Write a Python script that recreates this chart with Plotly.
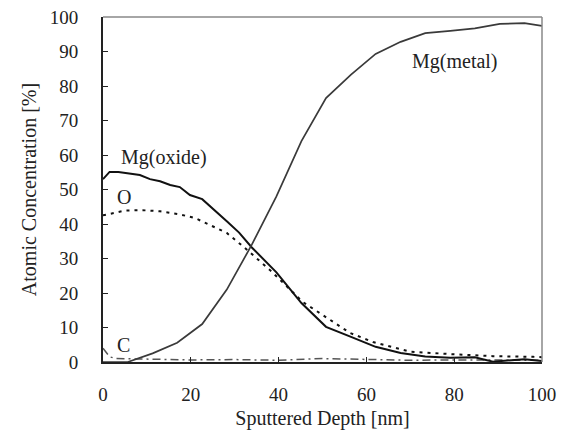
import plotly.graph_objects as go

# Mg(metal)
metal_x = [0, 5.65, 11.3, 16.9, 22.6, 28.2, 33.9, 39.5, 45.2, 50.8, 56.5, 62.1, 67.8, 73.4, 79.1, 84.7, 90.4, 96.0, 100]
metal_y = [0, 0, 2.5, 5.6, 11, 21, 34, 48, 64, 76.5, 83.3, 89.3, 92.8, 95.3, 96.0, 96.7, 98.0, 98.2, 97.4]

# Mg(oxide)
oxide_x = [0, 1.5, 3.5, 6.2, 8.4, 10.7, 13.0, 15.3, 17.5, 19.8, 22.6, 28.2, 31.0, 33.9, 39.5, 45.2, 50.8, 56.5, 62.1, 67.8, 73.4, 79.1, 84.7, 88.8, 96.0, 100]
oxide_y = [53, 55.1, 55.1, 54.6, 54.2, 53.0, 52.4, 51.3, 50.7, 48.4, 47.2, 40.8, 37.5, 33.2, 26.0, 17.1, 10.2, 7.3, 4.4, 2.6, 1.6, 1.2, 1.4, 0.1, 0.8, 0.3]

# O
o_x = [0, 2.3, 5, 9, 13, 17.5, 21, 23.2, 28.2, 32, 38, 45.5, 50, 56.3, 61.5, 70, 79, 88.8, 98, 100]
o_y = [42.5, 43.2, 43.9, 44.0, 43.7, 42.8, 41.7, 40.4, 37.4, 33.4, 26.7, 17.4, 13.6, 8.4, 5.8, 3.0, 2.3, 1.7, 1.5, 1.4]

# C
c_x = [0, 1.5, 3, 10, 20, 30, 40, 50, 60, 70, 80, 90, 100]
c_y = [4.0, 1.5, 1.0, 0.8, 0.6, 0.7, 0.5, 1.0, 0.8, 0.5, 0.6, 0.5, 0.5]

x_ticks = [0, 20, 40, 60, 80, 100]
y_ticks = [0, 10, 20, 30, 40, 50, 60, 70, 80, 90, 100]

labels = ["Mg(oxide)", "O", "C", "Mg(metal)"]
label_x = [14.0, 4.8, 4.6, 80.2]
label_y = [59.4, 47.8, 5.0, 87.0]

FONT = "Liberation Serif"
TXT = "#222222"

fig = go.Figure()
fig.add_trace(go.Scatter(x=c_x, y=c_y, mode="lines", name="C",
                         line=dict(color="#555555", width=1.5, dash="8px,4px,2px,4px")))
fig.add_trace(go.Scatter(x=o_x, y=o_y, mode="lines", name="O",
                         line=dict(color="#111111", width=2, dash="3px,5px")))
fig.add_trace(go.Scatter(x=oxide_x, y=oxide_y, mode="lines", name="Mg(oxide)",
                         line=dict(color="#111111", width=2)))
fig.add_trace(go.Scatter(x=metal_x, y=metal_y, mode="lines", name="Mg(metal)",
                         line=dict(color="#3a3a3a", width=1.7)))

for t, xx, yy in zip(labels, label_x, label_y):
    fig.add_annotation(x=xx, y=yy, text=t, showarrow=False,
                       font=dict(family=FONT, size=20, color=TXT))

fig.add_shape(type="line", xref="paper", yref="paper", x0=0, x1=1, y0=1, y1=1,
              line=dict(color="#888888", width=1.5))
fig.add_shape(type="line", xref="paper", yref="paper", x0=1, x1=1, y0=0, y1=1,
              line=dict(color="#888888", width=1.5))

fig.update_layout(
    width=567, height=430,
    margin=dict(l=103, r=25, t=17, b=68),
    paper_bgcolor="white", plot_bgcolor="white",
    showlegend=False,
    font=dict(family=FONT, color=TXT),
)
fig.update_xaxes(range=[0, 100], tickvals=x_ticks, ticks="inside", ticklen=5,
                 tickcolor=TXT, showline=True, linecolor=TXT, linewidth=2,
                 showgrid=False, zeroline=False, ticklabelstandoff=14, automargin=False,
                 tickfont=dict(family=FONT, size=19, color=TXT),
                 title=dict(text="Sputtered Depth [nm]", standoff=9,
                            font=dict(family=FONT, size=20, color=TXT)))
fig.update_yaxes(range=[0, 100], tickvals=y_ticks, ticks="inside", ticklen=5,
                 tickcolor=TXT, showline=True, linecolor=TXT, linewidth=2,
                 showgrid=False, zeroline=False, ticklabelstandoff=19, automargin=False,
                 tickfont=dict(family=FONT, size=19, color=TXT),
                 title=dict(text="Atomic Concentration [%]", standoff=8,
                            font=dict(family=FONT, size=20, color=TXT)))

fig.write_html("out.html")
